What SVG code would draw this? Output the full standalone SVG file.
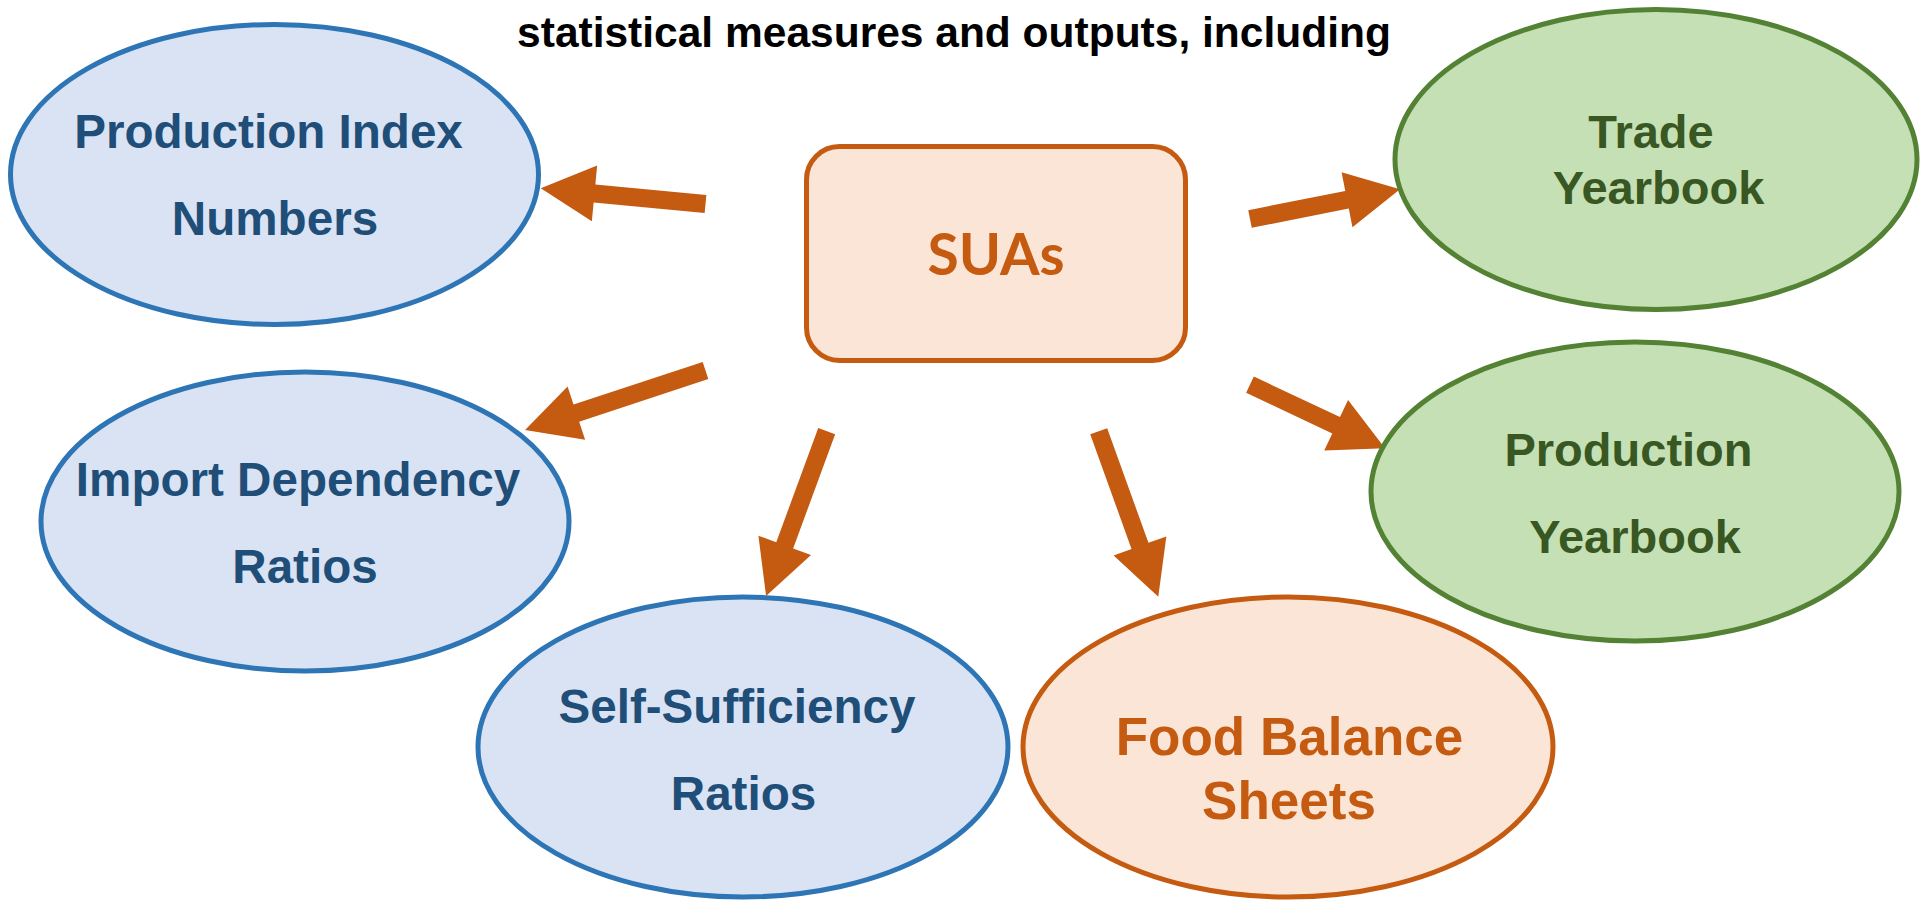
<svg xmlns="http://www.w3.org/2000/svg" width="1920" height="901" viewBox="0 0 1920 901">
<style>
  .blue ellipse{fill:#DAE3F3;stroke:#2E75B6;stroke-width:5}
  .green ellipse{fill:#C5E0B4;stroke:#548235;stroke-width:5}
  .orange ellipse{fill:#FBE5D6;stroke:#C55A11;stroke-width:5}
  text{font-family:"Liberation Sans",Arial,sans-serif;font-weight:bold;text-anchor:middle}
  .blue text{fill:#1F4E79;font-size:47.6px}
  .green text{fill:#385723;font-size:47px}
  .orange text{fill:#C55A11;font-size:53px}
  .arrow{fill:#C55A11}
</style>
<rect width="1920" height="901" fill="#FFFFFF"/>
<text id="title" x="954" y="47" style="font-size:42.5px;fill:#000000">statistical measures and outputs, including</text>

<g id="connectors">
  <path class="arrow" transform="translate(705.5,204) rotate(185.44)" d="M0,-9 H111.5 V-28 L165.5,0 L111.5,28 V9 H0 Z"/>
  <path class="arrow" transform="translate(705.5,370.5) rotate(161.75)" d="M0,-9 H136 V-28 L190,0 L136,28 V9 H0 Z"/>
  <path class="arrow" transform="translate(1250,219) rotate(-11.2)" d="M0,-9 H98.9 V-28 L152.9,0 L98.9,28 V9 H0 Z"/>
  <path class="arrow" transform="translate(1250,384.7) rotate(25.2)" d="M0,-9 H95.2 V-28 L149.2,0 L95.2,28 V9 H0 Z"/>
  <path class="arrow" transform="translate(826.7,431.2) rotate(110.2)" d="M0,-9 H121.6 V-28 L175.6,0 L121.6,28 V9 H0 Z"/>
  <path class="arrow" transform="translate(1098.7,431.2) rotate(70.2)" d="M0,-9 H121.9 V-28 L175.9,0 L121.9,28 V9 H0 Z"/>
</g>

<g id="suas">
  <rect x="806.5" y="146.5" width="379" height="214" rx="33" ry="33" fill="#FBE5D6" stroke="#C55A11" stroke-width="5"/>
  <text x="996" y="275" style="font-family:Lato,'Open Sans',sans-serif;font-size:57px;fill:#C55A11">SUAs</text>
</g>

<g id="production-index" class="blue">
  <ellipse cx="274.5" cy="174.5" rx="264" ry="150"/>
  <text x="268.5" y="148">Production Index</text>
  <text x="275" y="235">Numbers</text>
</g>

<g id="import-dependency" class="blue">
  <ellipse cx="305" cy="521.5" rx="264" ry="149.5"/>
  <text x="298" y="496">Import Dependency</text>
  <text x="305" y="583">Ratios</text>
</g>

<g id="self-sufficiency" class="blue">
  <ellipse cx="743" cy="747" rx="265" ry="150"/>
  <text x="737" y="723">Self-Sufficiency</text>
  <text x="743.5" y="810">Ratios</text>
</g>

<g id="food-balance" class="orange">
  <ellipse cx="1288" cy="747" rx="265" ry="150"/>
  <text x="1289.5" y="755">Food Balance</text>
  <text x="1289" y="819">Sheets</text>
</g>

<g id="trade-yearbook" class="green">
  <ellipse cx="1656" cy="159.5" rx="261" ry="150"/>
  <text x="1651" y="148">Trade</text>
  <text x="1658.5" y="204">Yearbook</text>
</g>

<g id="production-yearbook" class="green">
  <ellipse cx="1635" cy="491.5" rx="264" ry="149.5"/>
  <text x="1628.5" y="466">Production</text>
  <text x="1635" y="553">Yearbook</text>
</g>
</svg>
